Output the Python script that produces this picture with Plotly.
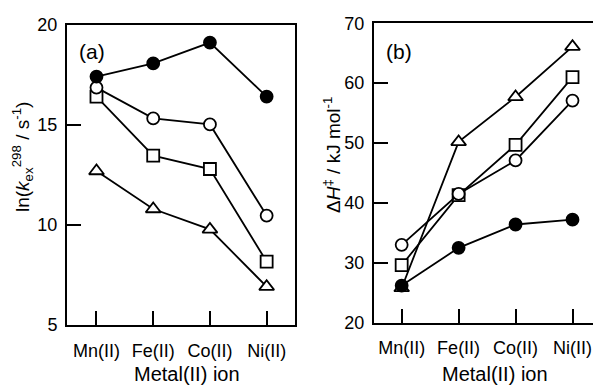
import plotly.graph_objects as go

metals = ["Mn(II)", "Fe(II)", "Co(II)", "Ni(II)"]

# Panel (a): ln(k_ex^298 / s^-1)
a_filled_circle = [17.42, 18.08, 19.12, 16.42]
a_open_circle = [16.87, 15.33, 15.03, 10.47]
a_square = [16.42, 13.47, 12.8, 8.17]
a_triangle = [12.7, 10.8, 9.78, 6.92]

# Panel (b): ΔH‡ / kJ mol^-1
b_triangle = [25.8, 50.2, 57.7, 66.1]
b_square = [29.6, 41.3, 49.7, 61.0]
b_open_circle = [33.0, 41.5, 47.1, 57.1]
b_filled_circle = [26.2, 32.5, 36.4, 37.2]

y_ticks_a = [5, 10, 15, 20]
y_ticks_b = [20, 30, 40, 50, 60, 70]

FONT = "Liberation Sans, Arial, Helvetica, sans-serif"
W, H = 593, 387

def style(sym, fill):
    return dict(symbol=sym, size=12 if sym != "triangle-up" else 13,
                color=fill, line=dict(color="black", width=1.8))

series_a = [
    (a_triangle, "triangle-up", "white"),
    (a_square, "square", "white"),
    (a_open_circle, "circle", "white"),
    (a_filled_circle, "circle", "black"),
]
series_b = [
    (b_triangle, "triangle-up", "white"),
    (b_square, "square", "white"),
    (b_open_circle, "circle", "white"),
    (b_filled_circle, "circle", "black"),
]

fig = go.Figure()
for vals, sym, fill in series_a:
    fig.add_trace(go.Scatter(x=metals, y=vals, mode="lines+markers",
                             line=dict(color="black", width=1.8),
                             marker=style(sym, fill), xaxis="x", yaxis="y",
                             showlegend=False, cliponaxis=False))
for vals, sym, fill in series_b:
    fig.add_trace(go.Scatter(x=metals, y=vals, mode="lines+markers",
                             line=dict(color="black", width=1.8),
                             marker=style(sym, fill), xaxis="x2", yaxis="y2",
                             showlegend=False, cliponaxis=False))

common_x = dict(type="category", showgrid=False, zeroline=False, showline=True,
                linecolor="black", linewidth=2, ticks="inside", ticklen=14,
                tickwidth=2, tickcolor="black", mirror=True,
                tickfont=dict(family=FONT, size=18, color="black"),
                ticklabelstandoff=8, automargin=False)
common_y = dict(showgrid=False, zeroline=False, showline=True,
                linecolor="black", linewidth=2, ticks="inside", ticklen=14,
                tickwidth=2, tickcolor="black", automargin=False,
                tickfont=dict(family=FONT, size=18, color="black"),
                ticklabelstandoff=4)

fig.update_layout(
    width=W, height=H,
    margin=dict(l=0, r=0, t=0, b=0),
    paper_bgcolor="white", plot_bgcolor="white",
    xaxis=dict(common_x, domain=[67 / W, 295 / W], range=[-0.52, 3.5],
               anchor="y"),
    yaxis=dict(common_y, domain=[1 - 325 / H, 1 - 25 / H], range=[5, 20],
               tickvals=y_ticks_a, mirror=True, anchor="x"),
    xaxis2=dict(common_x, domain=[374 / W, 1.0], range=[-0.486, 3.36],
                anchor="y2"),
    yaxis2=dict(common_y, domain=[1 - 322.7 / H, 1 - 23.3 / H], range=[20, 70],
                tickvals=y_ticks_b, mirror=False, anchor="x2"),
)

ann = [
    dict(text="(a)", x=92 / W, y=1 - 51.7 / H, font=dict(size=21)),
    dict(text="(b)", x=399 / W, y=1 - 51.7 / H, font=dict(size=21)),
    dict(text="Metal(II) ion", x=187 / W, y=0, yanchor="bottom",
         font=dict(size=20)),
    dict(text="Metal(II) ion", x=495 / W, y=0, yanchor="bottom",
         font=dict(size=20)),
    dict(text="ln(<i>k</i><sub>ex</sub><sup>298</sup> / s<sup>-1</sup>)",
         x=22 / W, y=1 - 157 / H, textangle=-90, font=dict(size=19)),
    dict(text="Δ<i>H</i><sup>‡</sup> / kJ mol<sup>-1</sup>",
         x=332 / W, y=1 - 155 / H, textangle=-90, font=dict(size=19)),
]
for a in ann:
    a["font"].update(family=FONT, color="black")
    a.setdefault("yanchor", "middle")
    fig.add_annotation(xref="paper", yref="paper", showarrow=False,
                       xanchor="center", **a)

fig.write_html("out.html")
